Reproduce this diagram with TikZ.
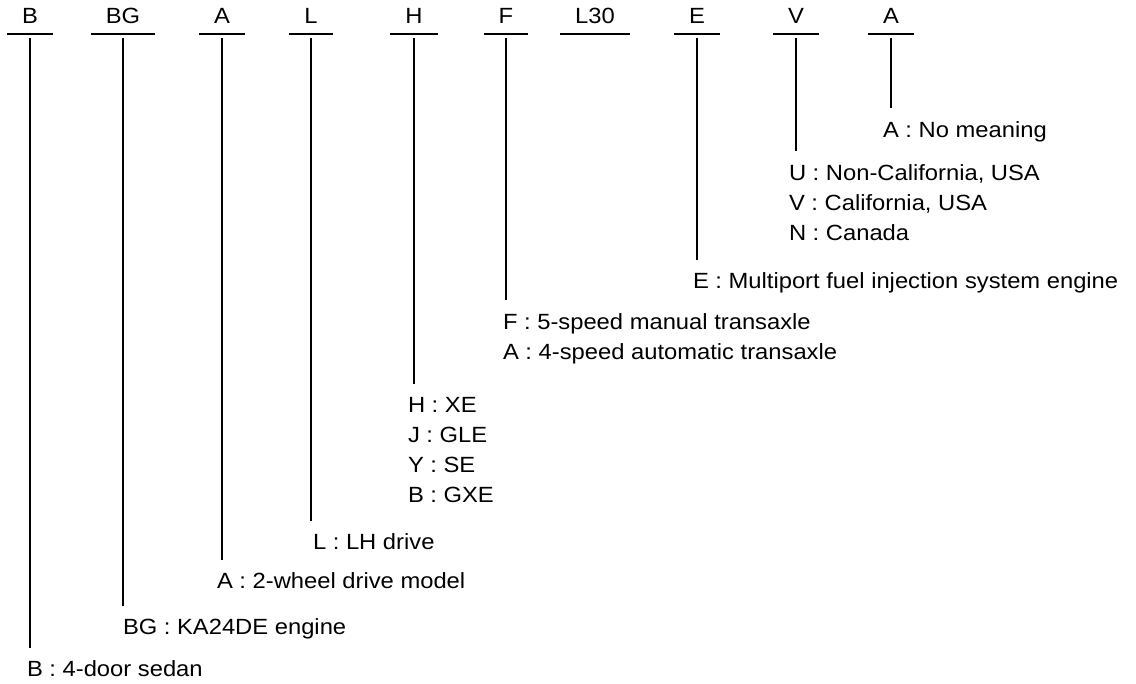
\documentclass[tikz,border=0pt]{standalone}
\usepackage{fontspec}
\setmainfont[FakeStretch=1.08]{Liberation Sans}
\begin{document}
\begin{tikzpicture}[x=0.5pt,y=-0.5pt,line width=1pt,
    font=\fontsize{11}{15}\selectfont,
    code/.style={anchor=south,inner xsep=7pt,inner ysep=4.5pt,minimum width=21pt,text depth=0pt},
    desc/.style={anchor=north west,inner sep=0pt,align=left}]
  \useasboundingbox (0,0) rectangle (1136,684);
  \draw
    (30,34) node[code] (h0){B}
    (123,34) node[code] (h1){BG}
    (222,34) node[code] (h2){A}
    (311,34) node[code] (h3){L}
    (414,34) node[code] (h4){H}
    (506,34) node[code] (h5){F}
    (595,34) node[code] (h6){L30}
    (697,34) node[code] (h7){E}
    (796,34) node[code] (h8){V}
    (891,34) node[code] (h9){A};
  \draw
    (26,660) node[desc] (t0){B : 4-door sedan}
    (122,617.5) node[desc] (t1){BG : KA24DE engine}
    (216,571.5) node[desc] (t2){A : 2-wheel drive model}
    (312,532.5) node[desc] (t3){L : LH drive}
    (407,396.5) node[desc] (t4){H : XE\\J : GLE\\Y : SE\\B : GXE}
    (502,312.5) node[desc] (t5){F : 5-speed manual transaxle\\A : 4-speed automatic transaxle}
    (692,272) node[desc] (t7){E : Multiport fuel injection system engine}
    (788,163.5) node[desc] (t8){U : Non-California, USA\\V : California, USA\\N : Canada}
    (882,120.5) node[desc] (t9){A : No meaning};
  \begin{scope}[line width=1.2pt]
    \draw (h0.south west) -- (h0.south east);
    \draw (h1.south west) -- (h1.south east);
    \draw (h2.south west) -- (h2.south east);
    \draw (h3.south west) -- (h3.south east);
    \draw (h4.south west) -- (h4.south east);
    \draw (h5.south west) -- (h5.south east);
    \draw (h6.south west) -- (h6.south east);
    \draw (h7.south west) -- (h7.south east);
    \draw (h8.south west) -- (h8.south east);
    \draw (h9.south west) -- (h9.south east);
  \end{scope}
  \begin{scope}[shorten <=2pt,shorten >=6pt]
    \draw (h0.south) -- (h0.south |- t0.north);
    \draw (h1.south) -- (h1.south |- t1.north);
    \draw (h2.south) -- (h2.south |- t2.north);
    \draw (h3.south) -- (h3.south |- t3.north);
    \draw (h4.south) -- (h4.south |- t4.north);
    \draw (h5.south) -- (h5.south |- t5.north);
    \draw (h7.south) -- (h7.south |- t7.north);
    \draw (h8.south) -- (h8.south |- t8.north);
    \draw (h9.south) -- (h9.south |- t9.north);
  \end{scope}
\end{tikzpicture}
\end{document}
